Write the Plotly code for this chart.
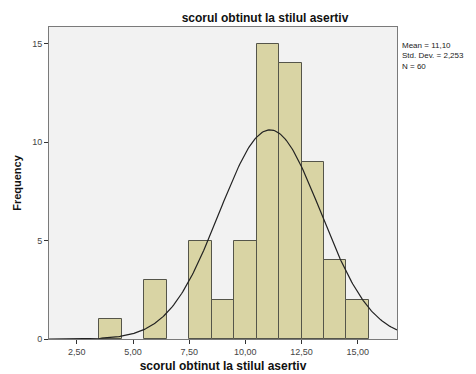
import numpy as np
import plotly.graph_objects as go

# Data
bin_centers = [4, 6, 8, 9, 10, 11, 12, 13, 14, 15]
frequencies = [1, 3, 5, 2, 5, 15, 14, 9, 4, 2]
mean_val = 11.10
std_val = 2.253
n_val = 60
x_tickvals = [2.5, 5.0, 7.5, 10.0, 12.5, 15.0]
x_ticktext = ["2,50", "5,00", "7,50", "10,00", "12,50", "15,00"]
y_tickvals = [0, 5, 10, 15]

x_range = [1.26, 16.75]
y_range = [0, 15.85]

# Fitted normal curve (bin width 1)
xs = np.linspace(x_range[0], x_range[1], 300)
ys = n_val * 1.0 / (std_val * np.sqrt(2 * np.pi)) * np.exp(-0.5 * ((xs - mean_val) / std_val) ** 2)

fig = go.Figure()
fig.add_trace(go.Bar(
    x=bin_centers, y=frequencies, width=1,
    marker=dict(color="#D9D4A4", line=dict(color="#55554a", width=1)),
    showlegend=False, hoverinfo="skip"))
fig.add_trace(go.Scatter(
    x=xs, y=ys, mode="lines",
    line=dict(color="#222222", width=1.2),
    showlegend=False, hoverinfo="skip"))

font_family = "Liberation Sans, Arial, sans-serif"

fig.update_layout(
    width=476, height=374,
    margin=dict(l=49, r=79, t=27, b=35, autoexpand=False),
    paper_bgcolor="white", plot_bgcolor="#F2F2F2",
    bargap=0,
    font=dict(family=font_family, size=9, color="#333333"),
    title=dict(text="<b>scorul obtinut la stilul asertiv</b>",
               x=265 / 476, xanchor="center", y=1 - 18 / 374, yanchor="middle",
               font=dict(size=12, color="#111111")),
)
fig.update_xaxes(
    range=x_range, tickvals=x_tickvals, ticktext=x_ticktext,
    showgrid=False, zeroline=False,
    showline=True, mirror=True, linecolor="#7a7a7a", linewidth=1,
    ticks="outside", ticklen=4, tickcolor="#333333",
    tickfont=dict(size=9, color="#444444"),
    title=dict(text="<b>scorul obtinut la stilul asertiv</b>",
               font=dict(size=12, color="#111111"), standoff=5),
)
fig.update_yaxes(
    range=y_range, tickvals=y_tickvals,
    showgrid=False, zeroline=False,
    showline=True, mirror=True, linecolor="#7a7a7a", linewidth=1,
    ticks="outside", ticklen=4, tickcolor="#333333",
    tickfont=dict(size=9, color="#444444"),
    title=dict(text="<b>Frequency</b>",
               font=dict(size=11, color="#111111"), standoff=8),
)

fig.add_annotation(
    text="Mean = 11,10<br>Std. Dev. = 2,253<br>N = 60",
    xref="paper", yref="paper", x=1.0, y=1 - (39 - 27) / 312,
    xanchor="left", yanchor="top", xshift=3, showarrow=False, align="left",
    font=dict(size=8, color="#222222", family=font_family))

fig.write_html("out.html", config={"displayModeBar": False},
               post_script="document.body.style.margin='0';")
